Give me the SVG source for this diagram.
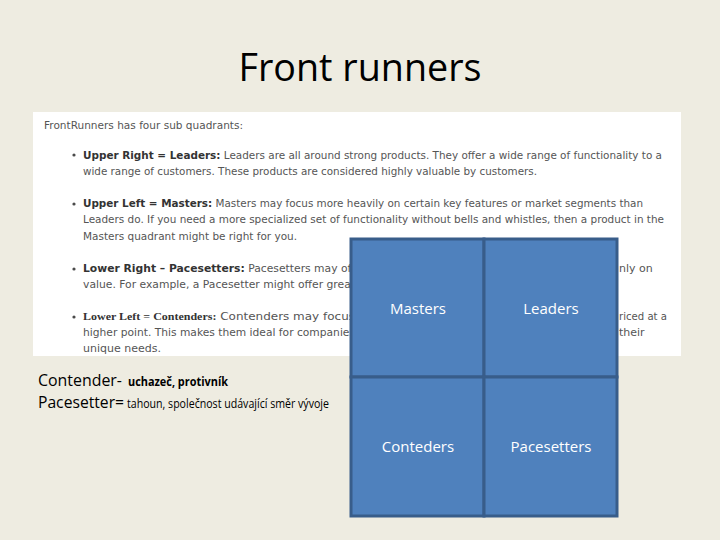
<svg xmlns="http://www.w3.org/2000/svg" width="720" height="540" viewBox="0 0 720 540">
<style>
.shot{font-family:"DejaVu Sans",Verdana,sans-serif;font-size:11px;fill:#555555}
.b{font-weight:bold;fill:#333}
.q{fill:#4f81bd;stroke:#385d8a;stroke-width:3}
.ql{font-family:"Open Sans","Liberation Sans",sans-serif;font-size:15px;fill:#ffffff;text-anchor:middle}
.note{font-family:"Open Sans","Liberation Sans",sans-serif;fill:#000}
</style>
<rect width="720" height="540" fill="#eeece1"/>
<text x="360" y="81" font-family="Open Sans,Liberation Sans,sans-serif" font-size="38" text-anchor="middle" fill="#000" textLength="243" lengthAdjust="spacingAndGlyphs">Front runners</text>
<g id="screenshot">
<rect x="33" y="112" width="648" height="244" fill="#ffffff"/>
<text class="shot" x="44" y="129" textLength="199" lengthAdjust="spacingAndGlyphs">FrontRunners has four sub quadrants:</text>
<g fill="#4a4a4a"><circle cx="74" cy="155" r="1.6"/><circle cx="74" cy="204" r="1.6"/><circle cx="74" cy="269" r="1.6"/><circle cx="74" cy="317" r="1.6"/></g>
<text class="shot" x="83" y="159" textLength="579" lengthAdjust="spacingAndGlyphs"><tspan class="b">Upper Right = Leaders:</tspan> Leaders are all around strong products. They offer a wide range of functionality to a</text>
<text class="shot" x="83" y="175" textLength="454" lengthAdjust="spacingAndGlyphs">wide range of customers. These products are considered highly valuable by customers.</text>
<text class="shot" x="83" y="207" textLength="560" lengthAdjust="spacingAndGlyphs"><tspan class="b">Upper Left = Masters:</tspan> Masters may focus more heavily on certain key features or market segments than</text>
<text class="shot" x="83" y="223" textLength="581" lengthAdjust="spacingAndGlyphs">Leaders do. If you need a more specialized set of functionality without bells and whistles, then a product in the</text>
<text class="shot" x="83" y="240" textLength="214" lengthAdjust="spacingAndGlyphs">Masters quadrant might be right for you.</text>
<text class="shot" x="83" y="272" textLength="272" lengthAdjust="spacingAndGlyphs"><tspan class="b">Lower Right – Pacesetters:</tspan> Pacesetters may off</text>
<text class="shot" x="83" y="288" textLength="272" lengthAdjust="spacingAndGlyphs">value. For example, a Pacesetter might offer great</text>
<text class="shot" x="83" y="320" textLength="272" lengthAdjust="spacingAndGlyphs"><tspan class="b" font-family="Liberation Serif,serif">Lower Left = Contenders:</tspan> Contenders may focus</text>
<text class="shot" x="83" y="336" textLength="272" lengthAdjust="spacingAndGlyphs">higher point. This makes them ideal for companies</text>
<text class="shot" x="83" y="352">unique needs.</text>
<text class="shot" x="619" y="272">nly on</text>
<text class="shot" x="619" y="320" textLength="48" lengthAdjust="spacingAndGlyphs">riced at a</text>
<text class="shot" x="619" y="336">their</text>
</g>
<g id="notes">
<text class="note" x="38" y="386" font-size="16" textLength="84" lengthAdjust="spacingAndGlyphs">Contender-</text>
<text class="note" x="128" y="386" font-size="12" font-weight="bold" textLength="100" lengthAdjust="spacingAndGlyphs">uchazeč, protivník</text>
<text class="note" x="38" y="408" font-size="16" textLength="86" lengthAdjust="spacingAndGlyphs">Pacesetter=</text>
<text class="note" x="127" y="408" font-size="12" textLength="202" lengthAdjust="spacingAndGlyphs">tahoun, společnost udávající směr vývoje</text>
</g>
<g id="quadrant">
<g id="masters"><rect class="q" x="351" y="239" width="133" height="138"/><text class="ql" x="418" y="314">Masters</text></g>
<g id="leaders"><rect class="q" x="484" y="239" width="133" height="138"/><text class="ql" x="551" y="314">Leaders</text></g>
<g id="conteders"><rect class="q" x="351" y="377" width="133" height="139"/><text class="ql" x="418" y="452">Conteders</text></g>
<g id="pacesetters"><rect class="q" x="484" y="377" width="133" height="139"/><text class="ql" x="551" y="452">Pacesetters</text></g>
</g>
<g id="connectors"/>
</svg>
